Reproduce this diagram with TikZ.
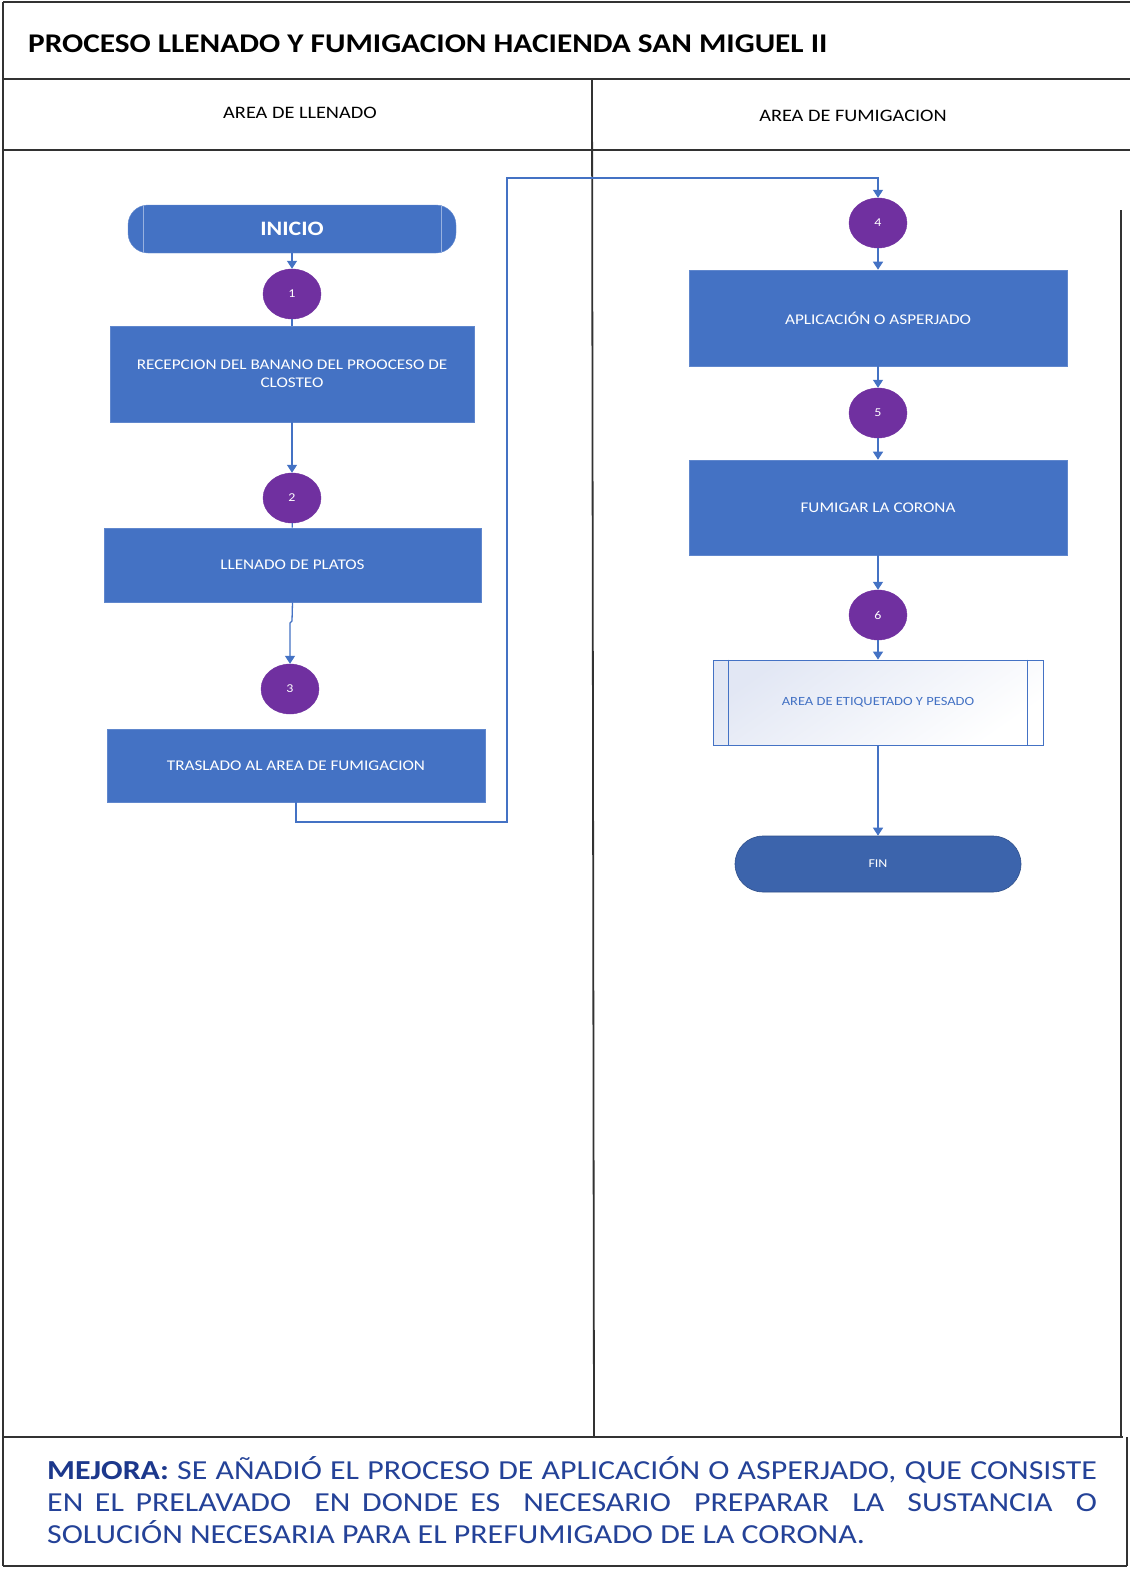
\documentclass[tikz,border=0pt]{standalone}
\usepackage{fontspec}
\usepackage{graphicx}
\setmainfont{Carlito}
\usetikzlibrary{arrows.meta,shapes.geometric,calc}
\definecolor{boxblue}{RGB}{68,114,196}
\definecolor{finblue}{RGB}{60,100,172}
\definecolor{numpurple}{RGB}{112,48,160}
\definecolor{notetext}{RGB}{36,66,152}
\definecolor{notebold}{RGB}{28,56,140}
\definecolor{framegray}{RGB}{50,50,50}
\definecolor{subshade}{RGB}{226,231,244}
% the whole sheet uses slightly widened lettering
\newcommand{\wx}[1]{\scalebox{1.16}[1]{#1}}
\tikzset{
  frame/.style={draw=framegray, line width=1.8pt},
  proc/.style={rectangle, fill=boxblue, draw=boxblue!85!white, line width=0.6pt,
    text=white, font=\fontsize{14.8}{18}\selectfont, align=center},
  startstop/.style={rectangle, rounded corners=20pt, fill=boxblue, draw=boxblue!80!white,
    text=white, font=\fontsize{20.5}{24}\selectfont\bfseries,
    minimum width=328pt, minimum height=48pt},
  endstop/.style={rectangle, rounded corners=28pt, fill=finblue, draw=finblue!80!black,
    line width=0.6pt, text=white, font=\fontsize{12}{14}\selectfont,
    minimum width=286pt, minimum height=56pt},
  num/.style={ellipse, fill=numpurple, draw=numpurple, text=white,
    font=\fontsize{12}{14}\selectfont, minimum width=58pt, minimum height=50pt, inner sep=0pt},
  subproc/.style={rectangle, draw=boxblue, line width=0.8pt,
    top color=subshade, bottom color=white, shading angle=35,
    text=boxblue, font=\fontsize{12.5}{15}\selectfont,
    minimum width=330pt, minimum height=85pt},
  line/.style={draw=boxblue, line width=1.3pt},
  conn/.style={line, -{Triangle[width=10pt,length=8pt]}},
  lanehead/.style={font=\fontsize{17.5}{21}\selectfont, text=black}
}
\begin{document}
\begin{tikzpicture}[x=1pt,y=-1pt]
\useasboundingbox (0,0) rectangle (1130,1574);
\fill[white] (0,0) rectangle (1130,1574);

% frame and swimlanes
\draw[frame] (3,2) -- (1130,2);
\draw[frame] (3,2) -- (3,1566);
\draw[frame] (3,79) -- (1130,79);
\draw[frame] (3,150) -- (1130,150);
\draw[frame] (592,79) -- (594,1437);
\draw[frame] (3,1437) -- (1123,1437);
\draw[frame] (1121,210) -- (1121,1437);
\draw[frame] (1127,1437) -- (1127,1566);
\draw[frame] (3,1566) -- (1127,1566);

% headings
\node[anchor=base west, inner sep=0pt, font=\fontsize{27}{32}\selectfont\bfseries] (title) at (28,52)
  {\wx{PROCESO LLENADO Y FUMIGACION HACIENDA SAN MIGUEL II}};
\node[lanehead] (laneA) at (300,113) {\wx{AREA DE LLENADO}};
\node[lanehead] (laneB) at (853,116) {\wx{AREA DE FUMIGACION}};

% area de llenado
\node[startstop] (inicio) at (292,229) {\wx{INICIO}};
\draw[boxblue!55!white, line width=0.5pt] ([xshift=15pt]inicio.north west) -- ([xshift=15pt]inicio.south west);
\draw[boxblue!55!white, line width=0.5pt] ([xshift=-15pt]inicio.north east) -- ([xshift=-15pt]inicio.south east);
\node[num] (n1) at (292,294) {\wx{1}};
\node[proc, minimum width=364pt, minimum height=96pt] (recep) at (292,374)
  {\wx{RECEPCION DEL BANANO DEL PROOCESO DE}\\\wx{CLOSTEO}};
\node[num] (n2) at (292,498) {\wx{2}};
\node[proc, minimum width=377pt, minimum height=74pt] (llen) at (292.5,565) {\wx{LLENADO DE PLATOS}};
\node[num] (n3) at (290,689) {\wx{3}};
\node[proc, minimum width=378pt, minimum height=73pt] (tras) at (296,765.5) {\wx{TRASLADO AL AREA DE FUMIGACION}};

% area de fumigacion
\node[num] (n4) at (878,223) {\wx{4}};
\node[proc, minimum width=378pt, minimum height=96pt] (apl) at (878,318) {\wx{APLICACIÓN O ASPERJADO}};
\node[num] (n5) at (878,413) {\wx{5}};
\node[proc, minimum width=378pt, minimum height=95pt] (fum) at (878,507.5) {\wx{FUMIGAR LA CORONA}};
\node[num] (n6) at (878,615) {\wx{6}};
\node[subproc] (etq) at (878,702.5) {\wx{AREA DE ETIQUETADO Y PESADO}};
\draw[boxblue, line width=0.8pt] ([xshift=16pt]etq.north west) -- ([xshift=16pt]etq.south west);
\draw[boxblue, line width=0.8pt] ([xshift=-16pt]etq.north east) -- ([xshift=-16pt]etq.south east);
\node[endstop] (fin) at (878,864) {\wx{FIN}};

% connectors
\coordinate (jog) at (292,621);
\coordinate (c1) at (507,822);
\coordinate (c2) at (507,178);
\draw[conn] (inicio) -- (n1);
\draw[line] (n1) -- (recep);
\draw[conn] (recep) -- (n2);
\draw[line] (n2) -- (llen);
\draw[conn] (llen.south) -- (jog) -- ++(-2,2) -- (n3.north);
\draw[conn] (tras.south) |- (c1) -- (c2) -| (n4.north);
\draw[conn] (n4) -- (apl);
\draw[conn] (apl) -- (n5);
\draw[conn] (n5) -- (fum);
\draw[conn] (fum) -- (n6);
\draw[conn] (n6) -- (etq);
\draw[conn] (etq) -- (fin);

% improvement note
\node[anchor=north west, inner sep=0pt, text=notetext, font=\fontsize{27.5}{32}\selectfont] (note) at (47,1456)
  {\wx{\parbox{905pt}{%
    \makebox[905pt][s]{\textcolor{notebold}{\bfseries MEJORA:} SE AÑADIÓ EL PROCESO DE APLICACIÓN O ASPERJADO, QUE CONSISTE}\\
    \makebox[905pt][s]{EN EL PRELAVADO \ EN DONDE ES \ NECESARIO \ PREPARAR \ LA \ SUSTANCIA \ O}\\
    SOLUCIÓN NECESARIA PARA EL PREFUMIGADO DE LA CORONA.}}};
\end{tikzpicture}
\end{document}
